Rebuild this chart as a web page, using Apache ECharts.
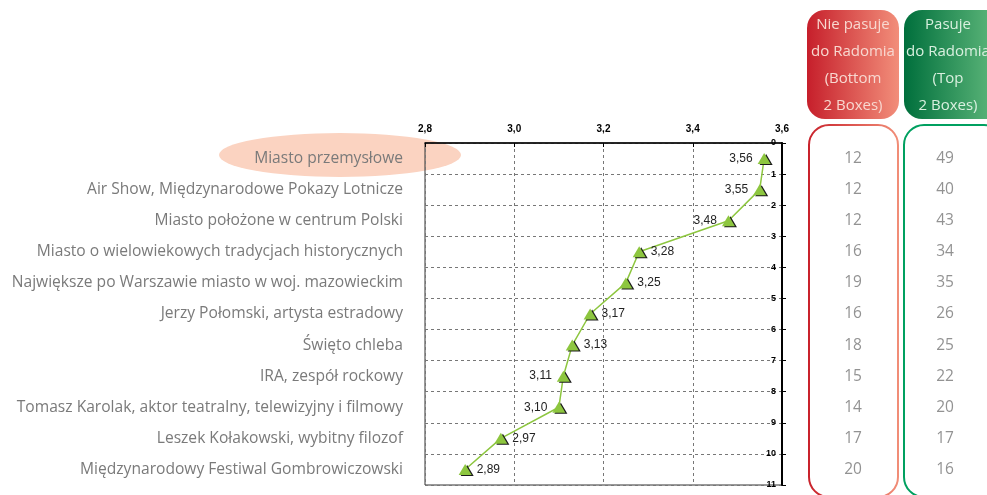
<!DOCTYPE html>
<html>
<head>
<meta charset="utf-8">
<script src="https://cdn.jsdelivr.net/npm/echarts@6/dist/echarts.min.js"></script>
<style>
  html, body { margin: 0; padding: 0; background: #fff; }
  #chart { width: 987px; height: 495px; }
</style>
</head>
<body>
<div id="chart"></div>
<script>
// dane z wykresu
var categories = [
    'Miasto przemysłowe',
    'Air Show, Międzynarodowe Pokazy Lotnicze',
    'Miasto położone w centrum Polski',
    'Miasto o wielowiekowych tradycjach historycznych',
    'Największe po Warszawie miasto w woj. mazowieckim',
    'Jerzy Połomski, artysta estradowy',
    'Święto chleba',
    'IRA, zespół rockowy',
    'Tomasz Karolak, aktor teatralny, telewizyjny i filmowy',
    'Leszek Kołakowski, wybitny filozof',
    'Międzynarodowy Festiwal Gombrowiczowski'
];
var means = [3.56, 3.55, 3.48, 3.28, 3.25, 3.17, 3.13, 3.11, 3.10, 2.97, 2.89];
var bottom2 = [12, 12, 12, 16, 19, 16, 18, 15, 14, 17, 20];
var top2 = [49, 40, 43, 34, 35, 26, 25, 22, 20, 17, 16];
var xTicks = [2.8, 3.0, 3.2, 3.4, 3.6];

// etykiety po lewej stronie punktu
var labelLeft = [0, 1, 2, 7, 8];

var catFont = 'Open Sans';
var numFont = 'Liberation Sans';

var chart = echarts.init(document.getElementById('chart'));

var lineData = means.map(function (v, i) {
    return {
        value: [v, categories[i]],
        label: { position: labelLeft.indexOf(i) >= 0 ? 'left' : 'right' }
    };
});

function tableSeries(idx, values) {
    return {
        type: 'scatter',
        xAxisIndex: idx,
        yAxisIndex: idx + 1,
        symbolSize: 1,
        itemStyle: { color: 'rgba(0,0,0,0)' },
        silent: true,
        data: values.map(function (v, i) { return [1, categories[i], v]; }),
        label: {
            show: true,
            position: 'inside',
            formatter: function (p) { return String(p.value[2]); },
            color: '#777',
            fontFamily: catFont,
            fontSize: 15.5
        }
    };
}

function roundBox(x, y, w, h, r, fill, stroke) {
    return {
        type: 'rect',
        shape: { x: x, y: y, width: w, height: h, r: r },
        style: fill ? { fill: fill } : { fill: 'none', stroke: stroke, lineWidth: 2 },
        silent: true
    };
}

function grad(c1, c2) {
    return new echarts.graphic.LinearGradient(0, 0, 1, 0, [
        { offset: 0, color: c1 }, { offset: 1, color: c2 }
    ]);
}

function headerText(cx, lines, color) {
    return {
        type: 'text',
        x: cx,
        y: 11,
        style: {
            text: lines.join('\n'),
            fill: color,
            font: '15px "Open Sans"',
            lineHeight: 27,
            align: 'center',
            verticalAlign: 'top'
        },
        silent: true
    };
}

var option = {
    animation: false,
    backgroundColor: '#fff',
    grid: [
        { left: 425, right: 205, top: 143, bottom: 10, show: true, borderColor: '#333', borderWidth: 1 },
        { left: 808, width: 90, top: 143, bottom: 10 },
        { left: 903, width: 90, top: 143, bottom: 10 }
    ],
    xAxis: [
        {
            type: 'value',
            gridIndex: 0,
            position: 'top',
            min: 2.8,
            max: 3.6,
            interval: 0.2,
            axisLine: { show: true, lineStyle: { color: '#000', width: 1.5 } },
            axisTick: { show: true, inside: true, length: 4, lineStyle: { color: '#000' } },
            axisLabel: {
                color: '#000',
                fontFamily: numFont,
                fontWeight: 'bold',
                fontSize: 10,
                margin: 9,
                formatter: function (v) { return v.toFixed(1).replace('.', ','); },
                customValues: xTicks
            },
            splitLine: { show: true, lineStyle: { color: '#777', type: [3, 3], width: 1 } }
        },
        { type: 'value', gridIndex: 1, min: 0, max: 2, show: false },
        { type: 'value', gridIndex: 2, min: 0, max: 2, show: false }
    ],
    yAxis: [
        {
            type: 'value',
            gridIndex: 0,
            position: 'right',
            inverse: true,
            min: 0,
            max: 11,
            interval: 1,
            axisLine: { show: true, lineStyle: { color: '#000', width: 2 } },
            axisTick: { show: true, length: 4, lineStyle: { color: '#000' } },
            axisLabel: {
                inside: true,
                color: '#000',
                fontFamily: numFont,
                fontWeight: 'bold',
                fontSize: 9,
                margin: 6
            },
            splitLine: { show: true, lineStyle: { color: '#777', type: [3, 3], width: 1 } }
        },
        {
            type: 'category',
            gridIndex: 0,
            position: 'left',
            inverse: true,
            data: categories,
            axisLine: { show: false },
            axisTick: { show: false },
            splitLine: { show: false },
            axisLabel: {
                color: '#7a7a7a',
                fontFamily: catFont,
                fontSize: 15.6,
                margin: 22
            }
        },
        { type: 'category', gridIndex: 1, inverse: true, data: categories, show: false },
        { type: 'category', gridIndex: 2, inverse: true, data: categories, show: false }
    ],
    graphic: [
        {
            type: 'circle',
            shape: { cx: 0, cy: 0, r: 22 },
            x: 340,
            y: 155,
            scaleX: 5.5,
            style: { fill: '#fbd3c1' },
            z: -10,
            silent: true
        },
        roundBox(807, 10, 92, 109, 18, grad('#c61f2b', '#f28e7a')),
        roundBox(904, 10, 100, 109, 18, grad('#006f3c', '#66bd80')),
        headerText(853, ['Nie pasuje', 'do Radomia', '(Bottom', '2 Boxes)'], '#f8d8d0'),
        headerText(948, ['Pasuje', 'do Radomia', '(Top', '2 Boxes)'], '#d9f0df'),
        roundBox(809, 125, 89, 372, 20, null, grad('#c8202a', '#f29079')),
        roundBox(904, 125, 100, 372, 20, null, '#00a060')
    ],
    series: [
        {
            type: 'line',
            xAxisIndex: 0,
            yAxisIndex: 1,
            data: lineData,
            symbol: 'triangle',
            symbolSize: [13, 11],
            lineStyle: { color: '#8dc63f', width: 1.5 },
            itemStyle: {
                color: '#8dc63f',
                shadowColor: '#1a1a1a',
                shadowOffsetX: 2,
                shadowOffsetY: 1,
                shadowBlur: 0
            },
            label: {
                show: true,
                color: '#222',
                fontFamily: numFont,
                fontSize: 12,
                distance: 5,
                formatter: function (p) { return p.value[0].toFixed(2).replace('.', ','); }
            },
            z: 5
        },
        tableSeries(1, bottom2),
        tableSeries(2, top2)
    ]
};

chart.setOption(option);

window.onresize = function () {
    chart.resize();
};
</script>
</body>
</html>
